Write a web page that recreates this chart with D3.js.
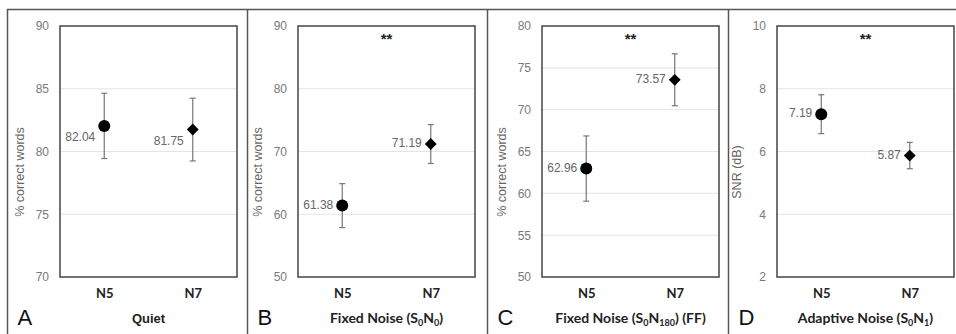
<!DOCTYPE html>
<html>
<head>
<meta charset="utf-8">
<script src="https://cdn.jsdelivr.net/npm/d3@7"></script>
<style>
  body { margin: 0; background: #fff; }
  svg { display: block; }
</style>
</head>
<body>
<svg id="fig" width="956" height="334"></svg>
<script>
// chart values
const groups = ["N5", "N7"]
const letters = ["A", "B", "C", "D"]
const yTitles = ["% correct words", "% correct words", "% correct words", "SNR (dB)"]
const yDomains = [[70, 90], [50, 90], [50, 80], [2, 10]]
const yTicks = [[70, 75, 80, 85, 90], [50, 60, 70, 80, 90], [50, 55, 60, 65, 70, 75, 80], [2, 4, 6, 8, 10]]
const means = [[82.04, 81.75], [61.38, 71.19], [62.96, 73.57], [7.19, 5.87]]
const errs = [[2.6, 2.5], [3.5, 3.1], [3.9, 3.1], [0.62, 0.42]]
const signif = [false, true, true, true]
// subtitles: [text, subscript] pieces
const subtitles = [
  [["Quiet", ""]],
  [["Fixed Noise (S", ""], ["0", "sub"], ["N", ""], ["0", "sub"], [")", ""]],
  [["Fixed Noise (S", ""], ["0", "sub"], ["N", ""], ["180", "sub"], [") (FF)", ""]],
  [["Adaptive Noise (S", ""], ["0", "sub"], ["N", ""], ["1", "sub"], [")", ""]]
]

const svg = d3.select("#fig")
const dividers = [7.5, 247.5, 487.5, 728.5]
const plotLeft = [60, 298, 542, 777]
const plotW = 177
const plotTop = 26, plotBottom = 277
const labelShift = [12, 0, 0, 0]   // panel A numbers sit below the marker

// outer frame
svg.append("line").attr("x1", 7).attr("x2", 956).attr("y1", 9.5).attr("y2", 9.5)
  .attr("stroke", "#555").attr("stroke-width", 1.5)
dividers.forEach(x => {
  svg.append("line").attr("x1", x).attr("x2", x).attr("y1", 9).attr("y2", 334)
    .attr("stroke", "#555").attr("stroke-width", 1.5)
})

letters.forEach((L, i) => {
  const g = svg.append("g")
  const x = d3.scalePoint().domain(groups).range([plotLeft[i], plotLeft[i] + plotW]).padding(0.5)
  const y = d3.scaleLinear().domain(yDomains[i]).range([plotBottom, plotTop])

  // grid
  g.selectAll(".grid").data(yTicks[i].slice(1, -1)).join("line")
    .attr("x1", plotLeft[i]).attr("x2", plotLeft[i] + plotW)
    .attr("y1", d => y(d)).attr("y2", d => y(d))
    .attr("stroke", "#e4e4e4").attr("stroke-width", 1)

  // plot border
  g.append("rect").attr("x", plotLeft[i]).attr("y", plotTop)
    .attr("width", plotW).attr("height", plotBottom - plotTop)
    .attr("fill", "none").attr("stroke", "#444").attr("stroke-width", 1.5)

  // y axis labels
  const ax = g.append("g").attr("transform", `translate(${plotLeft[i]},0)`)
    .call(d3.axisLeft(y).tickValues(yTicks[i]).tickSize(0).tickPadding(11))
  ax.select(".domain").remove()
  ax.selectAll("text").attr("font-family", "Liberation Sans, Arial, sans-serif")
    .attr("font-size", 12).attr("fill", "#7a7a7a")

  g.append("text")
    .attr("transform", `translate(${plotLeft[i] - 39},${172}) rotate(-90)`)
    .attr("text-anchor", "middle").attr("dominant-baseline", "middle")
    .attr("font-family", "Liberation Sans, Arial, sans-serif").attr("font-size", 12.5)
    .attr("fill", "#666").text(yTitles[i])

  // x category labels
  const bx = g.append("g").attr("transform", `translate(0,${plotBottom})`)
    .call(d3.axisBottom(x).tickSize(0).tickPadding(12))
  bx.select(".domain").remove()
  bx.selectAll("text").attr("font-family", "Lato, sans-serif").attr("font-weight", 700)
    .attr("font-size", 13).attr("fill", "#222")

  // error bars
  groups.forEach((k, j) => {
    const cx = x(k), m = means[i][j], e = errs[i][j]
    g.append("line").attr("x1", cx).attr("x2", cx)
      .attr("y1", y(m + e)).attr("y2", y(m - e))
      .attr("stroke", "#777").attr("stroke-width", 1.2)
    ;[m + e, m - e].forEach(v => {
      g.append("line").attr("x1", cx - 3).attr("x2", cx + 3)
        .attr("y1", y(v)).attr("y2", y(v))
        .attr("stroke", "#777").attr("stroke-width", 1.2)
    })
    if (j === 0) {
      g.append("circle").attr("cx", cx).attr("cy", y(m)).attr("r", 6).attr("fill", "#000")
    } else {
      g.append("path").attr("d", d3.symbol(d3.symbolSquare, 70)())
        .attr("transform", `translate(${cx},${y(m)}) rotate(45)`).attr("fill", "#000")
    }
    g.append("text").attr("x", cx - 9).attr("y", y(m) + labelShift[i])
      .attr("text-anchor", "end").attr("dominant-baseline", "middle")
      .attr("font-family", "Liberation Sans, Arial, sans-serif").attr("font-size", 12)
      .attr("fill", "#666").text(m.toFixed(2))
  })

  if (signif[i]) {
    g.append("text").attr("x", plotLeft[i] + plotW / 2).attr("y", 44)
      .attr("text-anchor", "middle").attr("font-family", "Liberation Sans, Arial, sans-serif")
      .attr("font-size", 15).attr("font-weight", 700).attr("fill", "#222").text("**")
  }

  // panel letter
  g.append("text").attr("x", dividers[i] + 10).attr("y", 325)
    .attr("font-family", "Liberation Sans, Arial, sans-serif").attr("font-size", 22)
    .attr("fill", "#111").text(L)

  // subtitle
  const st = g.append("text").attr("x", plotLeft[i] + plotW / 2).attr("y", 323)
    .attr("text-anchor", "middle").attr("font-weight", 700).attr("fill", "#222")
    .attr("font-family", i === 0 ? "Liberation Sans, Arial, sans-serif" : "Lato, sans-serif")
    .attr("font-size", i === 0 ? 13 : 14)
  subtitles[i].forEach(([t, kind]) => {
    const ts = st.append("tspan").text(t)
    if (kind === "sub") ts.attr("font-size", 9).attr("dy", 3)
    else if (st.selectAll("tspan").size() > 1) ts.attr("dy", -3)
  })
})
</script>
</body>
</html>
